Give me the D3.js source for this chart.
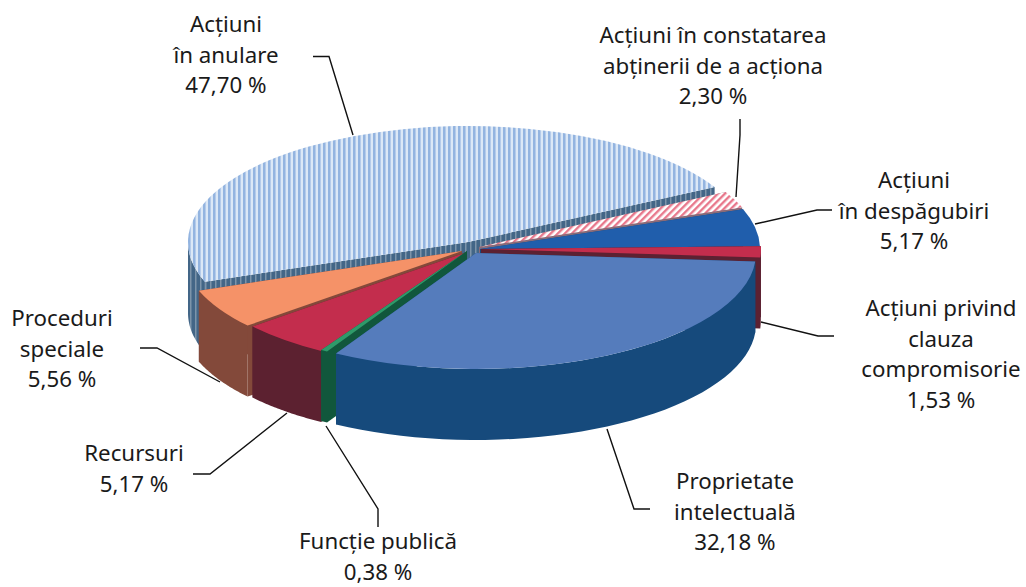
<!DOCTYPE html>
<meta charset="utf-8">
<style>
  body { margin: 0; background: #fff; }
  text { font-family: "Noto Sans", sans-serif; font-size: 22.3px; fill: #1a1a1a; text-anchor: middle; }
</style>
<script src="https://d3js.org/d3.v7.min.js"></script>
<div id="chart"></div>
<script>
// chart values, clockwise from the left edge of the biggest slice
var labels = [
    ["Acțiuni", "în anulare"],
    ["Acțiuni în constatarea", "abținerii de a acționa"],
    ["Acțiuni", "în despăgubiri"],
    ["Acțiuni privind", "clauza", "compromisorie"],
    ["Proprietate", "intelectuală"],
    ["Funcție publică"],
    ["Recursuri"],
    ["Proceduri", "speciale"]
];
var values = [47.70, 2.30, 5.17, 1.53, 32.18, 0.38, 5.17, 5.56];

// look of the slices
var topFill = ["url(#stripes)", "url(#hatch)", "#205eac", "#c32d4d", "#557cbc", "#2f9a6a", "#c32d4d", "#f59268"];
var wallFill = ["url(#wallStripes)", "#8a6b78", "#17497c", "#5c2132", "#164a7c", "#11573c", "#5c2130", "#83493a"];

// each slice is pulled out of the pie by its own amount
var centers = [[468, 242], [479, 247], [480, 249], [481, 249], [476, 253], [467, 251], [467, 252], [462, 251]];
var drawOrder = [0, 1, 2, 3, 7, 6, 5, 4];

// label centre x, first baseline, then leader line
var labelX = [226, 713, 914, 941, 735, 378, 134, 62];
var labelY = [32, 43, 188, 316, 489, 549, 461, 326];
var lineGap = 30.6;
var leaders = [
    [[313, 56.5], [329, 56.5], [353, 135]],
    [[740, 119], [740, 135], [736, 197]],
    [[832, 210], [817, 210], [755, 224]],
    [[834, 336], [818, 336], [761, 322]],
    [[650, 509], [634, 509], [607, 429]],
    [[378, 527], [378, 509], [326, 426]],
    [[193, 474], [210, 474], [287, 413]],
    [[140, 348], [157, 348], [220, 382]]
];

var width = 1026, height = 587;
var rx = 280, ry = 116, depth = 71;
var rad = Math.PI / 180;

var svg = d3.select("#chart").append("svg")
    .attr("width", width)
    .attr("height", height);

// pattern fills
var defs = svg.append("defs");

var stripes = defs.append("pattern").attr("id", "stripes")
    .attr("patternUnits", "userSpaceOnUse")
    .attr("width", 5).attr("height", 5);
stripes.append("rect").attr("width", 5).attr("height", 5).attr("fill", "#dce8f6");
stripes.append("rect").attr("width", 2).attr("height", 5).attr("fill", "#93b4e0");
stripes.append("rect").attr("x", 2).attr("width", 1).attr("height", 5).attr("fill", "#b4cbea");

var wallStripes = defs.append("pattern").attr("id", "wallStripes")
    .attr("patternUnits", "userSpaceOnUse")
    .attr("width", 5).attr("height", 5);
wallStripes.append("rect").attr("width", 5).attr("height", 5).attr("fill", "#436687");
wallStripes.append("rect").attr("width", 1.5).attr("height", 5).attr("fill", "#7d94aa");

var hatch = defs.append("pattern").attr("id", "hatch")
    .attr("patternUnits", "userSpaceOnUse")
    .attr("width", 5).attr("height", 5)
    .attr("patternTransform", "scale(1," + (rx / ry) + ") rotate(45)");
hatch.append("rect").attr("width", 5).attr("height", 5).attr("fill", "#fff");
hatch.append("rect").attr("width", 2.4).attr("height", 5).attr("fill", "#e8788c");

var pie = d3.pie()
    .sort(null)
    .startAngle(250 * rad)
    .endAngle(610 * rad);
var slices = pie(values);

var arc = d3.arc().innerRadius(0).outerRadius(rx);
var line = d3.line();

function onRim(c, a, drop) {
    return [c[0] + rx * Math.sin(a), c[1] - ry * Math.cos(a) + drop];
}

// only the front half of the rim can be seen, anything else folds over itself
function rimWall(c, d) {
    var out = "";
    [[90, 270], [450, 630]].forEach(function (span) {
        var a0 = Math.max(d.startAngle, span[0] * rad);
        var a1 = Math.min(d.endAngle, span[1] * rad);
        if (a1 <= a0) return;
        var steps = d3.range(0, 41).map(function (i) { return a0 + (a1 - a0) * i / 40; });
        var upper = steps.map(function (a) { return onRim(c, a, 0); });
        var lower = steps.slice().reverse().map(function (a) { return onRim(c, a, depth); });
        out += line(upper.concat(lower)) + "Z";
    });
    return out;
}

function radialWall(c, a) {
    return line([c, onRim(c, a, 0), onRim(c, a, depth), [c[0], c[1] + depth]]) + "Z";
}

// back slices first, every slice is walls then top
drawOrder.forEach(function (i) {
    var d = slices[i], c = centers[i];
    var g = svg.append("g");
    g.append("path").attr("d", radialWall(c, d.startAngle)).attr("fill", wallFill[i]);
    g.append("path").attr("d", radialWall(c, d.endAngle)).attr("fill", wallFill[i]);
    g.append("path").attr("d", rimWall(c, d)).attr("fill", wallFill[i]);
    g.append("path")
        .attr("d", arc(d))
        .attr("transform", "translate(" + c[0] + "," + c[1] + ") scale(1," + (ry / rx) + ")")
        .attr("fill", topFill[i]);
});

// leader lines
svg.selectAll(".leader")
    .data(leaders)
    .enter()
    .append("path")
    .attr("class", "leader")
    .attr("d", function (d) { return line(d); })
    .attr("fill", "none")
    .attr("stroke", "#111")
    .attr("stroke-width", 1.4);

// labels, the value goes on the last line
labels.forEach(function (lines, i) {
    var all = lines.concat([values[i].toFixed(2).replace(".", ",") + " %"]);
    all.forEach(function (t, j) {
        svg.append("text")
            .attr("x", labelX[i])
            .attr("y", labelY[i] + j * lineGap)
            .text(t);
    });
});
</script>
